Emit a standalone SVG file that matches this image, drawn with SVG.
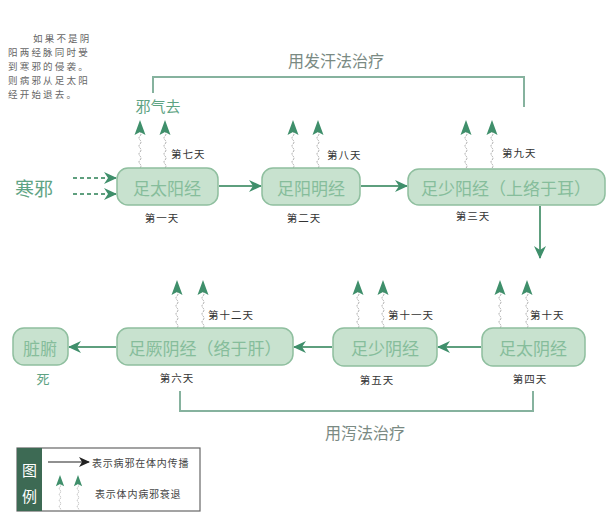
<svg xmlns="http://www.w3.org/2000/svg" width="608" height="519" viewBox="0 0 608 519">
<style>
.node rect{fill:#c8e2cf;stroke:#8fbf9f;stroke-width:1.5}
.nt{font-family:"Noto Sans CJK SC","Noto Sans",sans-serif;font-size:17px;fill:#86bd9b;text-anchor:middle;dominant-baseline:central}
.day{font-family:"Noto Sans CJK SC",sans-serif;font-size:10.5px;fill:#333;letter-spacing:1px;dominant-baseline:central}
.dayc{text-anchor:middle}
.flow{stroke:#5e9f7e;stroke-width:2;fill:none}
.bracket{stroke:#86b29e;stroke-width:2;fill:none}
.lbl{font-family:"Noto Sans CJK SC",sans-serif;font-size:16px;fill:#7a8a83;text-anchor:middle;dominant-baseline:central}
.note{font-family:"Noto Sans CJK SC",sans-serif;font-size:9.5px;fill:#666;letter-spacing:2.2px}
.green{font-family:"Noto Sans CJK SC",sans-serif;fill:#5ea383;dominant-baseline:central}
.wave{stroke:#aaa;stroke-width:1;fill:none;stroke-dasharray:2 1}
.head{fill:#3f8f6b}
.leg{font-family:"Noto Sans CJK SC",sans-serif;font-size:10px;fill:#444;letter-spacing:0.8px;dominant-baseline:central}
</style>
<defs>
<marker id="ah" markerUnits="userSpaceOnUse" markerWidth="14" markerHeight="12" refX="12" refY="6" orient="auto">
<path d="M0,0 L13,6 L0,12 L4,6 z" fill="#3f8f6b"/>
</marker>
<marker id="ahk" markerUnits="userSpaceOnUse" markerWidth="12" markerHeight="10" refX="10" refY="5" orient="auto">
<path d="M0,0 L11,5 L0,10 L3,5 z" fill="#222"/>
</marker>
<g id="up">
<path class="wave" d="M0,0 q2,-2 0,-4 t0,-4 t0,-4 t0,-4 t0,-4 t0,-4 t0,-4 t0,-4 t0,-4"/>
<path class="head" d="M0,-48 L5.5,-33 L0,-36 L-5.5,-33 z"/>
</g>
</defs>

<!-- note -->
<g id="note">
<text class="note" x="33" y="42">如果不是阴</text>
<text class="note" x="8" y="56">阳两经脉同时受</text>
<text class="note" x="8" y="70">到寒邪的侵袭。</text>
<text class="note" x="8" y="84">则病邪从足太阳</text>
<text class="note" x="8" y="98">经开始退去。</text>
</g>

<!-- connectors -->
<g id="connectors">
<line x1="73" y1="178" x2="116" y2="178" stroke="#5e9f7e" stroke-width="2" stroke-dasharray="4 3" marker-end="url(#ah)"/>
<line x1="73" y1="194" x2="116" y2="194" stroke="#5e9f7e" stroke-width="2" stroke-dasharray="4 3" marker-end="url(#ah)"/>
<line class="flow" x1="219" y1="186" x2="261" y2="186" marker-end="url(#ah)"/>
<line class="flow" x1="361" y1="186" x2="407" y2="186" marker-end="url(#ah)"/>
<line class="flow" x1="540" y1="206" x2="540" y2="258" marker-end="url(#ah)"/>
<line class="flow" x1="481" y1="347" x2="438" y2="347" marker-end="url(#ah)"/>
<line class="flow" x1="332" y1="347" x2="294" y2="347" marker-end="url(#ah)"/>
<line class="flow" x1="116" y1="347" x2="69" y2="347" marker-end="url(#ah)"/>
<use href="#up" x="140" y="168"/>
<use href="#up" x="165" y="168"/>
<use href="#up" x="293" y="168"/>
<use href="#up" x="318" y="168"/>
<use href="#up" x="466" y="168"/>
<use href="#up" x="492" y="168"/>
<use href="#up" x="177" y="328"/>
<use href="#up" x="203" y="328"/>
<use href="#up" x="358" y="328"/>
<use href="#up" x="383" y="328"/>
<use href="#up" x="500" y="328"/>
<use href="#up" x="527" y="328"/>
<path class="bracket" d="M153,93 V77 H524 V107"/>
<path class="bracket" d="M180,391 V411 H533 V391"/>
</g>

<g id="labels">
<text class="green" x="15" y="187" font-size="19">寒邪</text>
<text class="green" x="158" y="105" font-size="15" text-anchor="middle">邪气去</text>
<text class="green" x="43" y="378" font-size="13" text-anchor="middle">死</text>
<text class="lbl" x="336" y="60">用发汗法治疗</text>
<text class="lbl" x="365" y="432">用泻法治疗</text>
<text class="day" x="171" y="153">第七天</text>
<text class="day" x="327" y="154">第八天</text>
<text class="day" x="502" y="152">第九天</text>
<text class="day" x="530" y="314">第十天</text>
<text class="day" x="388" y="314">第十一天</text>
<text class="day" x="208" y="314">第十二天</text>
<text class="day dayc" x="162" y="217">第一天</text>
<text class="day dayc" x="304" y="217">第二天</text>
<text class="day dayc" x="473" y="215">第三天</text>
<text class="day dayc" x="530" y="378">第四天</text>
<text class="day dayc" x="377" y="379">第五天</text>
<text class="day dayc" x="177" y="377">第六天</text>
</g>

<g id="n1" class="node"><rect x="117" y="168" width="101" height="37" rx="11"/><text class="nt" x="167" y="187">足太阳经</text></g>
<g id="n2" class="node"><rect x="262" y="168" width="98" height="37" rx="11"/><text class="nt" x="311" y="187">足阳明经</text></g>
<g id="n3" class="node"><rect x="408" y="169" width="197" height="36" rx="11"/><text class="nt" x="506" y="187">足少阳经（上络于耳）</text></g>
<g id="n4" class="node"><rect x="482" y="328" width="103" height="38" rx="11"/><text class="nt" x="533" y="347">足太阴经</text></g>
<g id="n5" class="node"><rect x="333" y="328" width="104" height="38" rx="11"/><text class="nt" x="385" y="347">足少阴经</text></g>
<g id="n6" class="node"><rect x="117" y="328" width="176" height="37" rx="11"/><text class="nt" x="205" y="347">足厥阴经（络于肝）</text></g>
<g id="n7" class="node"><rect x="13" y="328" width="55" height="37" rx="11"/><text class="nt" x="40" y="347">脏腑</text></g>

<g id="legend">
<rect x="17" y="448" width="183" height="63" fill="#fff" stroke="#666" stroke-width="1.2"/>
<rect x="17" y="448" width="25" height="63" fill="#3d6a54"/>
<text x="29.5" y="469" font-family="Noto Sans CJK SC,sans-serif" font-size="15" fill="#fff" text-anchor="middle" dominant-baseline="central">图</text>
<text x="29.5" y="495" font-family="Noto Sans CJK SC,sans-serif" font-size="15" fill="#fff" text-anchor="middle" dominant-baseline="central">例</text>
<line x1="48" y1="462" x2="89" y2="462" stroke="#222" stroke-width="1.2" marker-end="url(#ahk)"/>
<text class="leg" x="92" y="462">表示病邪在体内传播</text>
<use href="#up" transform="translate(60,511) scale(0.75)"/>
<use href="#up" transform="translate(78,511) scale(0.75)"/>
<text class="leg" x="95" y="493">表示体内病邪衰退</text>
</g>
</svg>
